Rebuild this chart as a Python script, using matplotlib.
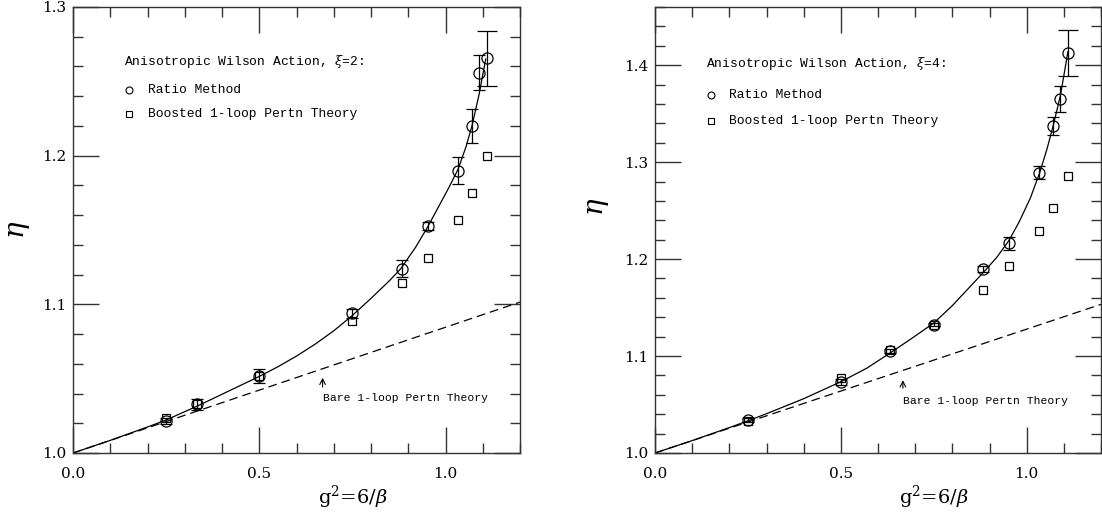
import numpy as np
import matplotlib
matplotlib.use("Agg")
import matplotlib.pyplot as plt
from matplotlib.ticker import MultipleLocator

plt.rcParams["font.family"] = ["DejaVu Serif"]
plt.rcParams["mathtext.fontset"] = "dejavuserif"

# xi = 2 panel
g2_ratio_2 = [0.25, 0.333, 0.5, 0.75, 0.882, 0.952, 1.034, 1.071, 1.091, 1.111]
eta_ratio_2 = [1.0217, 1.0327, 1.0517, 1.094, 1.124, 1.1527, 1.190, 1.220, 1.2557, 1.2656]
err_ratio_2 = [0.002, 0.0035, 0.0045, 0.003, 0.0055, 0.003, 0.009, 0.0113, 0.0117, 0.0185]
g2_boost_2 = [0.25, 0.333, 0.5, 0.75, 0.882, 0.952, 1.034, 1.071, 1.111]
eta_boost_2 = [1.0237, 1.033, 1.052, 1.0888, 1.1146, 1.1313, 1.1568, 1.175, 1.1995]
g2_fit_2 = [0.0, 0.1, 0.2, 0.25, 0.333, 0.4, 0.5, 0.55, 0.6, 0.65, 0.7, 0.75, 0.8, 0.85,
	0.88, 0.92, 0.952, 0.98, 1.01, 1.034, 1.055, 1.071, 1.09, 1.108]
eta_fit_2 = [1.0, 1.0085, 1.0175, 1.0222, 1.0315, 1.0395, 1.0515, 1.058, 1.0652, 1.0732,
	1.0822, 1.0925, 1.104, 1.116, 1.124, 1.1385, 1.152, 1.165, 1.179, 1.191, 1.206,
	1.22, 1.241, 1.265]
g2_bare_2 = [0.0, 1.2]
eta_bare_2 = [1.0, 1.1015]

# xi = 4 panel
g2_ratio_4 = [0.25, 0.5, 0.632, 0.75, 0.882, 0.952, 1.034, 1.071, 1.091, 1.111]
eta_ratio_4 = [1.034, 1.0735, 1.1055, 1.1325, 1.1897, 1.2162, 1.289, 1.3374, 1.3655, 1.4127]
err_ratio_4 = [0.002, 0.003, 0.002, 0.002, 0.003, 0.007, 0.0065, 0.0095, 0.0135, 0.024]
g2_boost_4 = [0.25, 0.5, 0.632, 0.75, 0.882, 0.952, 1.034, 1.071, 1.111]
eta_boost_4 = [1.0333, 1.0776, 1.106, 1.1323, 1.1684, 1.1928, 1.229, 1.2529, 1.2856]
g2_fit_4 = [0.0, 0.1, 0.2, 0.25, 0.3, 0.4, 0.5, 0.57, 0.632, 0.69, 0.75, 0.8, 0.85,
	0.883, 0.92, 0.952, 0.98, 1.01, 1.035, 1.055, 1.071, 1.091, 1.111]
eta_fit_4 = [1.0, 1.0128, 1.0262, 1.0332, 1.0405, 1.056, 1.0735, 1.0875, 1.103, 1.118,
	1.134, 1.152, 1.1725, 1.186, 1.202, 1.219, 1.2385, 1.263, 1.289, 1.314, 1.337,
	1.369, 1.414]
g2_bare_4 = [0.0, 1.2]
eta_bare_4 = [1.0, 1.1533]

mono = ["Liberation Mono", "DejaVu Sans Mono"]


def setup_axes(ax, ymax, label_pos):
	ax.set_xlim(0, 1.2)
	ax.set_ylim(1.0, ymax)
	ax.xaxis.set_major_locator(MultipleLocator(0.5))
	ax.xaxis.set_minor_locator(MultipleLocator(0.1))
	ax.yaxis.set_major_locator(MultipleLocator(0.1))
	ax.yaxis.set_minor_locator(MultipleLocator(0.02))
	ax.tick_params(which="both", direction="in", top=True, right=True, width=1.0, color="#333333")
	ax.tick_params(which="major", length=19, labelsize=11)
	ax.tick_params(which="minor", length=7)
	ax.tick_params(axis="x", which="major", pad=10)
	ax.tick_params(axis="y", which="major", pad=5)
	ax.xaxis.set_major_formatter(lambda v, p: "%.1f" % v)
	ax.yaxis.set_major_formatter(lambda v, p: "%.1f" % v)
	for s in ax.spines.values():
		s.set_linewidth(1.0)
		s.set_color("#333333")
	ax.set_xlabel(r"g$^2$=6/$\beta$", fontsize=14)
	ax.xaxis.set_label_coords(0.625, -0.07)
	ax.text(label_pos[0], label_pos[1], r"$\eta$", fontsize=20, rotation=90,
		ha="center", va="center", transform=ax.transAxes)


def draw_panel(ax, g2_r, eta_r, err_r, g2_b, eta_b, g2_f, eta_f, g2_d, eta_d, xi, leg_y):
	ax.plot(g2_f, eta_f, color="black", lw=0.9)
	ax.plot(g2_d, eta_d, color="black", lw=0.9, dashes=(7, 4))
	for x, y, e in zip(g2_r, eta_r, err_r):
		cap = 7 if e > 0.015 else 4
		ax.errorbar([x], [y], yerr=[e], fmt="o", ms=8, mfc="none", mec="black",
			mew=0.9, ecolor="black", elinewidth=0.9, capsize=cap, capthick=0.9)
	ax.plot(g2_b, eta_b, "s", ms=5.5, mfc="none", mec="black", mew=0.9)

	t = ax.transAxes
	ax.text(0.114, leg_y[0], r"Anisotropic Wilson Action, $\xi$=%d:" % xi, transform=t,
		fontsize=9.4, family=mono, va="center", ha="left")
	ax.plot([0.126], [leg_y[1]], "o", ms=5, mfc="none", mec="black", mew=0.8, transform=t)
	ax.text(0.167, leg_y[1], "Ratio Method", transform=t, fontsize=9.4, family=mono, va="center")
	ax.plot([0.126], [leg_y[2]], "s", ms=4.5, mfc="none", mec="black", mew=0.8, transform=t)
	ax.text(0.167, leg_y[2], "Boosted 1-loop Pertn Theory", transform=t, fontsize=9.4,
		family=mono, va="center")


fig = plt.figure(figsize=(11.02, 5.17), dpi=100)
ax1 = fig.add_axes([73 / 1102, 64 / 517, 447 / 1102, 446 / 517])
ax2 = fig.add_axes([655 / 1102, 64 / 517, 446 / 1102, 446 / 517])

draw_panel(ax1, g2_ratio_2, eta_ratio_2, err_ratio_2, g2_boost_2, eta_boost_2,
	g2_fit_2, eta_fit_2, g2_bare_2, eta_bare_2, 2, (0.877, 0.814, 0.760))
setup_axes(ax1, 1.3, (-0.123, 0.5))
ax1.annotate("", xy=(0.67, 1.0525), xytext=(0.67, 1.0425),
	arrowprops=dict(arrowstyle="->", lw=0.8, color="black"))
ax1.text(0.67, 1.037, "Bare 1-loop Pertn Theory", fontsize=8.2, family=mono, va="center", ha="left")

draw_panel(ax2, g2_ratio_4, eta_ratio_4, err_ratio_4, g2_boost_4, eta_boost_4,
	g2_fit_4, eta_fit_4, g2_bare_4, eta_bare_4, 4, (0.874, 0.803, 0.744))
setup_axes(ax2, 1.46, (-0.128, 0.552))
ax2.annotate("", xy=(0.667, 1.078), xytext=(0.667, 1.064),
	arrowprops=dict(arrowstyle="->", lw=0.8, color="black"))
ax2.text(0.667, 1.0536, "Bare 1-loop Pertn Theory", fontsize=8.2, family=mono, va="center", ha="left")

fig.savefig("out.png", dpi=100)
